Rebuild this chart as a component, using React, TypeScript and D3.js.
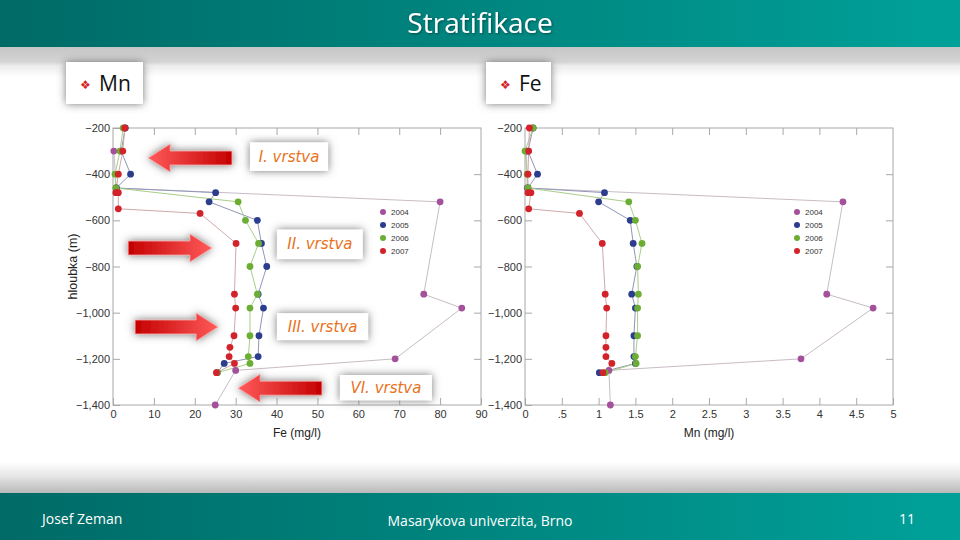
import { useEffect, useRef } from "react";
import * as d3 from "d3";

// series: year 2004..2007, depth (m) with Fe and Mn (mg/l)
const years = ["2004", "2005", "2006", "2007"];
const dotColors = ["#a4509b", "#2c3d8e", "#6cae34", "#d3222a"];
const lineColors = ["#c8bcc6", "#9097b8", "#a9cd8a", "#cfaaaa"];

const depth2004 = [-300, -460, -520, -920, -980, -1200, -1250, -1400];
const fe2004 = [0.2, 0.8, 80, 76, 85.3, 69, 30, 25];
const mn2004 = [0.02, 0.03, 4.32, 4.1, 4.73, 3.75, 1.14, 1.16];

const depth2005 = [-200, -300, -400, -460, -480, -520, -600, -700, -800, -920, -980, -1100, -1190, -1220, -1260];
const fe2005 = [3.0, 2.0, 4.3, 0.8, 25.1, 23.5, 35.3, 36.3, 37.6, 35.5, 36.8, 35.7, 35.5, 27.2, 25.5];
const mn2005 = [0.11, 0.04, 0.17, 0.04, 1.08, 1.0, 1.43, 1.47, 1.52, 1.45, 1.5, 1.48, 1.48, 1.5, 1.01];

const depth2006 = [-200, -300, -400, -460, -520, -600, -700, -800, -920, -980, -1100, -1190, -1220, -1260];
const fe2006 = [2.5, 1.7, 0.5, 0.7, 30.6, 32.4, 35.6, 33.5, 35.3, 33.5, 33.5, 33.1, 33.5, 25.5];
const mn2006 = [0.11, 0.0, 0.03, 0.04, 1.41, 1.5, 1.59, 1.53, 1.54, 1.53, 1.53, 1.5, 1.51, 1.09];

const depth2007 = [-200, -300, -400, -480, -480, -550, -570, -700, -920, -980, -1100, -1150, -1190, -1220, -1260];
const fe2007 = [2.9, 2.4, 1.3, 0.7, 1.3, 1.3, 21.3, 30.1, 29.7, 30.0, 29.6, 28.6, 28.4, 29.7, 25.3];
const mn2007 = [0.06, 0.05, 0.04, 0.04, 0.08, 0.05, 0.74, 1.05, 1.09, 1.11, 1.1, 1.1, 1.1, 1.18, 1.06];

const depthTicks = [-200, -400, -600, -800, -1000, -1200, -1400];
const feTicks = [0, 10, 20, 30, 40, 50, 60, 70, 80, 90];
const mnTicks = [0, 0.5, 1, 1.5, 2, 2.5, 3, 3.5, 4, 4.5, 5];
const mnTickLabels = ["0", ".5", "1", "1.5", "2", "2.5", "3", "3.5", "4", "4.5", "5"];

const layerLabels = ["I. vrstva", "II. vrstva", "III. vrstva", "VI. vrstva"];

const title = "Stratifikace";
const panelTitles = ["Mn", "Fe"];
const footer = ["Josef Zeman", "Masarykova univerzita, Brno", "11"];

const depths = [depth2004, depth2005, depth2006, depth2007];
const feSeries = [fe2004, fe2005, fe2006, fe2007];
const mnSeries = [mn2004, mn2005, mn2006, mn2007];

const axisFont = "'Liberation Sans', Arial, sans-serif";
const slideFont = "'Liberation Sans Narrow', 'Open Sans', sans-serif";

export default function App() {
  const svgRef = useRef<SVGSVGElement | null>(null);

  useEffect(() => {
    const svg = d3.select(svgRef.current);
    svg.selectAll("*").remove();
    const width = 960;
    const height = 540;
    svg.attr("viewBox", `0 0 ${width} ${height}`);

    const defs = svg.append("defs");
    const teal = defs.append("linearGradient").attr("id", "teal");
    teal.append("stop").attr("offset", "0%").attr("stop-color", "#006a66");
    teal.append("stop").attr("offset", "100%").attr("stop-color", "#00a199");

    const shade = defs.append("filter").attr("id", "shade")
      .attr("x", "-30%").attr("y", "-60%").attr("width", "160%").attr("height", "220%");
    shade.append("feDropShadow").attr("dx", 0).attr("dy", 0)
      .attr("stdDeviation", 4.5).attr("flood-color", "#5f5f5f").attr("flood-opacity", 0.85);

    const txtShadow = defs.append("filter").attr("id", "txtShadow");
    txtShadow.append("feDropShadow").attr("dx", 1).attr("dy", 1)
      .attr("stdDeviation", 0.8).attr("flood-color", "#003533").attr("flood-opacity", 0.7);

    // page background
    svg.append("rect").attr("width", width).attr("height", height).attr("fill", "#ffffff");

    // header shadow band
    const topBand = defs.append("linearGradient").attr("id", "topBand")
      .attr("x1", 0).attr("y1", 0).attr("x2", 0).attr("y2", 1);
    topBand.append("stop").attr("offset", "0%").attr("stop-color", "#c6c6c6");
    topBand.append("stop").attr("offset", "50%").attr("stop-color", "#d4d4d4");
    topBand.append("stop").attr("offset", "62%").attr("stop-color", "#ececec");
    topBand.append("stop").attr("offset", "100%").attr("stop-color", "#ffffff");
    svg.append("rect").attr("x", 0).attr("y", 47).attr("width", width).attr("height", 30)
      .attr("fill", "url(#topBand)");

    const botBand = defs.append("linearGradient").attr("id", "botBand")
      .attr("x1", 0).attr("y1", 0).attr("x2", 0).attr("y2", 1);
    botBand.append("stop").attr("offset", "0%").attr("stop-color", "#ffffff");
    botBand.append("stop").attr("offset", "45%").attr("stop-color", "#e6e6e6");
    botBand.append("stop").attr("offset", "100%").attr("stop-color", "#b9b9b9");
    svg.append("rect").attr("x", 0).attr("y", 462).attr("width", width).attr("height", 31)
      .attr("fill", "url(#botBand)");

    // header
    svg.append("rect").attr("width", width).attr("height", 47).attr("fill", "url(#teal)");
    svg.append("text").attr("x", width / 2).attr("y", 33)
      .attr("text-anchor", "middle").attr("fill", "#ffffff")
      .attr("font-family", slideFont).attr("font-size", 28)
      .attr("filter", "url(#txtShadow)").text(title);

    // footer
    svg.append("rect").attr("y", 493).attr("width", width).attr("height", 47).attr("fill", "url(#teal)");
    const foot = svg.append("g").attr("fill", "#ffffff").attr("font-family", slideFont).attr("font-size", 14);
    foot.append("text").attr("x", 42).attr("y", 524).text(footer[0]);
    foot.append("text").attr("x", 480).attr("y", 526).attr("text-anchor", "middle").text(footer[1]);
    foot.append("text").attr("x", 915).attr("y", 524).attr("text-anchor", "end").text(footer[2]);

    // panel titles
    [{ x: 66, w: 77 }, { x: 486, w: 65 }].forEach((b, i) => {
      const g = svg.append("g").attr("transform", `translate(${b.x},62)`);
      g.append("rect").attr("width", b.w).attr("height", 42).attr("fill", "#ffffff").attr("filter", "url(#shade)");
      g.append("text").attr("x", 14).attr("y", 27).attr("fill", "#d41f26")
        .attr("font-family", "'DejaVu Sans', sans-serif").attr("font-size", 12).text("\u2756");
      g.append("text").attr("x", 33).attr("y", 29).attr("fill", "#111")
        .attr("font-family", slideFont).attr("font-size", 21).text(panelTitles[i]);
    });

    function drawChart(opts: {
      left: number; right: number; values: number[][]; xDomain: [number, number];
      xTicks: number[]; xLabels: string[]; xTitle: string; yTitle?: string; legendX: number;
    }) {
      const top = 128;
      const bottom = 405;
      const x = d3.scaleLinear().domain(opts.xDomain).range([opts.left, opts.right]);
      const y = d3.scaleLinear().domain([-200, -1400]).range([top, bottom]);
      const g = svg.append("g");

      g.append("rect").attr("x", opts.left).attr("y", top)
        .attr("width", opts.right - opts.left).attr("height", bottom - top)
        .attr("fill", "none").attr("stroke", "#a8a8a8");

      const styleAxis = (a: d3.Selection<SVGGElement, unknown, null, undefined>) => {
        a.select(".domain").remove();
        a.selectAll(".tick line").attr("stroke", "#a8a8a8");
        a.selectAll(".tick text").attr("fill", "#333").attr("font-size", 11).attr("font-family", axisFont);
      };

      g.append("g").attr("transform", `translate(0,${bottom})`)
        .call(d3.axisBottom(x).tickValues(opts.xTicks).tickSize(-7).tickSizeOuter(0).tickPadding(5)
          .tickFormat((_, i) => opts.xLabels[i]))
        .call(styleAxis);
      g.append("g").attr("transform", `translate(0,${top})`)
        .call(d3.axisTop(x).tickValues(opts.xTicks.slice(1, -1)).tickSize(-7).tickSizeOuter(0).tickFormat(() => ""))
        .call(styleAxis);
      g.append("g").attr("transform", `translate(${opts.left},0)`)
        .call(d3.axisLeft(y).tickValues(depthTicks).tickSize(-7).tickSizeOuter(0).tickPadding(3))
        .call(styleAxis);
      g.append("g").attr("transform", `translate(${opts.right},0)`)
        .call(d3.axisRight(y).tickValues(depthTicks.slice(1, -1)).tickSize(-7).tickSizeOuter(0).tickFormat(() => ""))
        .call(styleAxis);

      g.append("text").attr("x", (opts.left + opts.right) / 2).attr("y", 437)
        .attr("text-anchor", "middle").attr("fill", "#222").attr("font-size", 12)
        .attr("font-family", axisFont).text(opts.xTitle);
      if (opts.yTitle) {
        g.append("text").attr("transform", `translate(77,${(top + bottom) / 2}) rotate(-90)`)
          .attr("text-anchor", "middle").attr("fill", "#222").attr("font-size", 12.5)
          .attr("font-family", axisFont).text(opts.yTitle);
      }

      const line = d3.line<[number, number]>().x((d) => x(d[0])).y((d) => y(d[1]));
      opts.values.forEach((vals, s) => {
        const pts = vals.map((v, i) => [v, depths[s][i]] as [number, number]);
        g.append("path").attr("d", line(pts)).attr("fill", "none")
          .attr("stroke", lineColors[s]).attr("stroke-width", 1);
      });
      opts.values.forEach((vals, s) => {
        g.selectAll(null).data(vals.map((v, i) => [v, depths[s][i]])).enter()
          .append("circle")
          .attr("cx", (d) => x(d[0])).attr("cy", (d) => y(d[1])).attr("r", 3.4)
          .attr("fill", dotColors[s]);
      });

      const legend = g.append("g").attr("transform", `translate(${opts.legendX},212)`);
      years.forEach((yr, i) => {
        const row = legend.append("g").attr("transform", `translate(0,${i * 13})`);
        row.append("circle").attr("r", 3).attr("fill", dotColors[i]);
        row.append("text").attr("x", 8).attr("y", 3).attr("font-size", 8)
          .attr("font-family", axisFont).attr("fill", "#333").text(yr);
      });
      return { x, y };
    }

    const left = drawChart({
      left: 113, right: 481, values: feSeries, xDomain: [0, 90], xTicks: feTicks,
      xLabels: feTicks.map(String), xTitle: "Fe (mg/l)", yTitle: "hloubka (m)", legendX: 383,
    });
    drawChart({
      left: 525, right: 893, values: mnSeries, xDomain: [0, 5], xTicks: mnTicks,
      xLabels: mnTickLabels, xTitle: "Mn (mg/l)", legendX: 797,
    });

    // annotations: layer boxes and arrows, anchored in the Fe chart's coordinates
    const ann = svg.append("g");
    const fx = left.x;
    const fy = left.y;
    const boxes = [
      { x0: 33.5, x1: 52.6, d0: -262, d1: -386 },
      { x0: 40.1, x1: 61.1, d0: -640, d1: -768 },
      { x0: 40.1, x1: 62.4, d0: -1002, d1: -1119 },
      { x0: 55.5, x1: 78.0, d0: -1270, d1: -1380 },
    ];
    boxes.forEach((b, i) => {
      const x0 = fx(b.x0);
      const y0 = fy(b.d0);
      const w = fx(b.x1) - x0;
      const h = fy(b.d1) - y0;
      ann.append("rect").attr("x", x0).attr("y", y0).attr("width", w).attr("height", h)
        .attr("fill", "#ffffff").attr("filter", "url(#shade)");
      ann.append("text").attr("x", x0 + w / 2).attr("y", y0 + h / 2 + 5)
        .attr("text-anchor", "middle").attr("fill", "#e8731c")
        .attr("font-family", "'DejaVu Sans', sans-serif").attr("font-style", "italic")
        .attr("font-size", 15).text(layerLabels[i]);
    });

    const arrows = [
      { tail: 29.1, tip: 8.6, d: -330 },
      { tail: 3.7, tip: 24.2, d: -720 },
      { tail: 5.4, tip: 25.7, d: -1062 },
      { tail: 51.1, tip: 30.6, d: -1327 },
    ];
    arrows.forEach((a) => {
      const xt = fx(a.tail);
      const xp = fx(a.tip);
      const yc = fy(a.d);
      const dir = xp > xt ? 1 : -1;
      const headLen = 22;
      const xb = xp - dir * headLen;
      const pts = [
        [xt, yc - 7], [xb, yc - 7], [xb, yc - 14], [xp, yc],
        [xb, yc + 14], [xb, yc + 7], [xt, yc + 7],
      ];
      const gradId = `ag${Math.round(xt)}`;
      const gr = defs.append("linearGradient").attr("id", gradId)
        .attr("gradientUnits", "userSpaceOnUse")
        .attr("x1", xt).attr("y1", yc).attr("x2", xp).attr("y2", yc);
      gr.append("stop").attr("offset", "0%").attr("stop-color", "#c40000");
      gr.append("stop").attr("offset", "100%").attr("stop-color", "#ff5a5a");
      ann.append("path").attr("d", `M${pts.map((p) => p.join(",")).join("L")}Z`)
        .attr("fill", `url(#${gradId})`).attr("stroke", "#f8b0b0").attr("stroke-width", 0.8)
        .attr("filter", "url(#shade)");
    });
  }, []);

  return (
    <svg
      ref={svgRef}
      width={960}
      height={540}
      style={{ position: "absolute", left: 0, top: 0, display: "block" }}
    />
  );
}
